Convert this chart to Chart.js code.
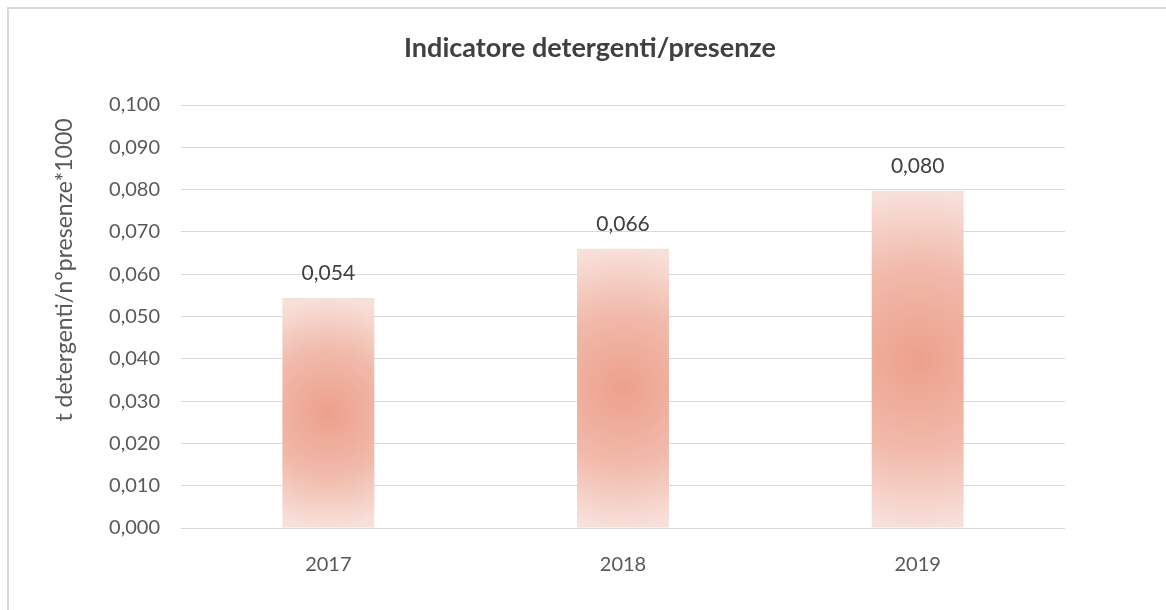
<!DOCTYPE html>
<html>
<head>
<meta charset="utf-8">
<script src="https://cdn.jsdelivr.net/npm/chart.js@4"></script>
<style>
  body { margin: 0; background: #fff; }
  canvas { display: block; }
</style>
</head>
<body>
<canvas id="chart" width="1166" height="610"></canvas>
<script>
// Chart data
const years = ['2017', '2018', '2019'];
const indicatorValues = [0.0544, 0.0660, 0.0797];
const yMin = 0;
const yMax = 0.1;
const yStep = 0.01;

const chartTitle = 'Indicatore detergenti/presenze';
const yAxisTitle = 't detergenti/n°presenze*1000';

const FONT = 'Lato, "Open Sans", sans-serif';

// format numbers the Italian way: 0,054
function fmt(v) {
    return v.toFixed(3).replace('.', ',');
}

// radial peach gradient centred in each bar
function barFill(context) {
    const chart = context.chart;
    const xs = chart.scales.x, ys = chart.scales.y;
    if (context.type !== 'data' || !chart.chartArea || !xs || !ys) return '#f1b4a4';
    const cx = xs.getPixelForValue(context.dataIndex);
    const top = ys.getPixelForValue(context.parsed.y);
    const bottom = ys.getPixelForValue(0);
    const cy = (top + bottom) / 2;
    const r = (bottom - top) / 2;
    const g = chart.ctx.createRadialGradient(cx, cy, 0, cx, cy, r);
    g.addColorStop(0, '#eda08b');
    g.addColorStop(0.55, '#f1baab');
    g.addColorStop(1, '#f8e0da');
    return g;
}

// white background and the light frame at the top/left
const framePlugin = {
    id: 'frame',
    beforeDraw(chart) {
        const c = chart.ctx;
        c.save();
        c.fillStyle = '#ffffff';
        c.fillRect(0, 0, chart.width, chart.height);
        c.strokeStyle = '#d9d9d9';
        c.lineWidth = 2;
        c.beginPath();
        c.moveTo(8, chart.height);
        c.lineTo(8, 8);
        c.lineTo(chart.width, 8);
        c.stroke();
        c.restore();
    }
};

// chart title and rotated y axis title, placed where Excel put them
const titlesPlugin = {
    id: 'titles',
    afterDraw(chart) {
        const c = chart.ctx;
        c.save();
        c.textAlign = 'center';
        c.textBaseline = 'middle';

        c.font = 'bold 27px ' + FONT;
        c.fillStyle = '#404040';
        c.fillText(chartTitle, 590, 48);

        c.translate(65, 270);
        c.rotate(-Math.PI / 2);
        c.font = '23px ' + FONT;
        c.fillStyle = '#595959';
        c.fillText(yAxisTitle, 0, 0);
        c.restore();
    }
};

// value labels above the bars
const valueLabelPlugin = {
    id: 'valueLabels',
    afterDatasetsDraw(chart) {
        const c = chart.ctx;
        const meta = chart.getDatasetMeta(0);
        c.save();
        c.font = '21px ' + FONT;
        c.fillStyle = '#404040';
        c.textAlign = 'center';
        c.textBaseline = 'middle';
        meta.data.forEach((bar, i) => {
            c.fillText(fmt(indicatorValues[i]), bar.x, bar.y - 25);
        });
        c.restore();
    }
};

new Chart(document.getElementById('chart'), {
    type: 'bar',
    data: {
        labels: years,
        datasets: [{
            data: indicatorValues,
            backgroundColor: barFill,
            borderWidth: 0,
            barPercentage: 0.312,
            categoryPercentage: 1
        }]
    },
    options: {
        responsive: false,
        animation: false,
        layout: { padding: { left: 0, right: 101, top: 105, bottom: 0 } },
        plugins: {
            legend: { display: false },
            tooltip: { enabled: false },
            title: { display: false }
        },
        scales: {
            x: {
                grid: { display: false },
                border: { display: false },
                ticks: {
                    color: '#595959',
                    font: { family: FONT, size: 20 },
                    padding: 17
                },
                afterFit(scale) { scale.height = 82; }
            },
            y: {
                min: yMin,
                max: yMax,
                grid: { color: '#d9d9d9', lineWidth: 1, drawTicks: false },
                border: { display: false },
                ticks: {
                    stepSize: yStep,
                    color: '#595959',
                    font: { family: FONT, size: 20 },
                    padding: 21,
                    callback: v => fmt(v)
                },
                afterFit(scale) { scale.width = 181; }
            }
        }
    },
    plugins: [framePlugin, titlesPlugin, valueLabelPlugin]
});
</script>
</body>
</html>
